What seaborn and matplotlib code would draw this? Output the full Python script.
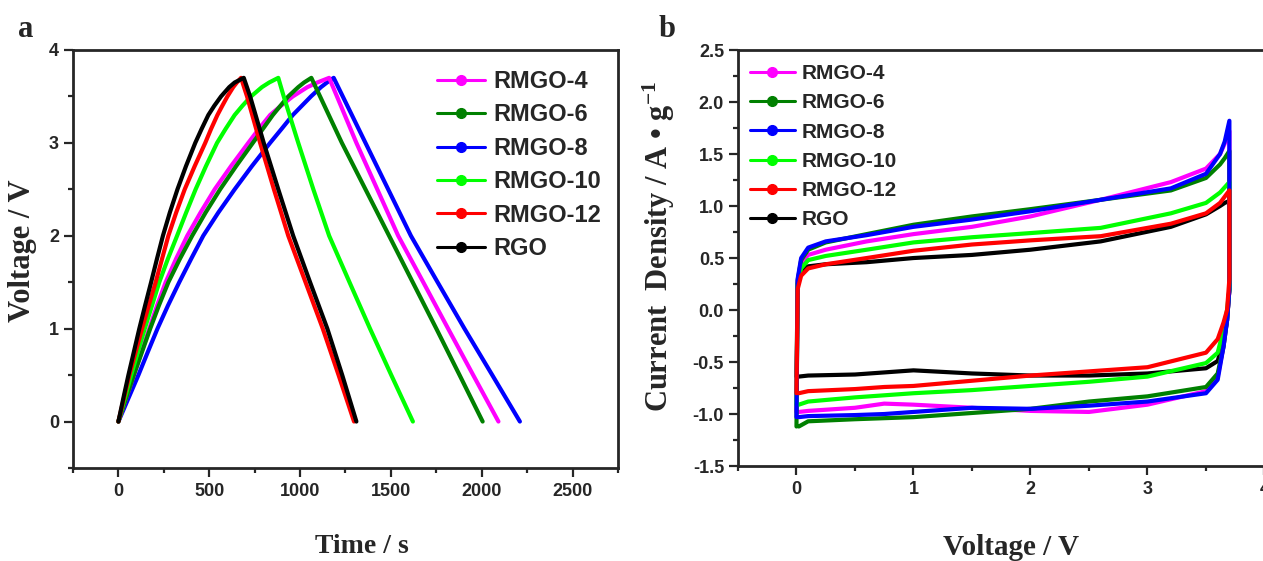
import pandas as pd
import seaborn as sns
import matplotlib.pyplot as plt
from matplotlib.lines import Line2D
from matplotlib.ticker import MultipleLocator

sns.set_style("ticks")
plt.rcParams["font.family"] = ["Liberation Sans", "DejaVu Sans"]
plt.rcParams["font.weight"] = "bold"
plt.rcParams["axes.unicode_minus"] = False
plt.rcParams["mathtext.fontset"] = "custom"
plt.rcParams["mathtext.rm"] = "Liberation Serif:bold"
plt.rcParams["mathtext.default"] = "rm"

samples = ["RMGO-4", "RMGO-6", "RMGO-8", "RMGO-10", "RMGO-12", "RGO"]
colors = ["#ff00ff", "#008000", "#0000ff", "#00ff00", "#ff0000", "#000000"]

# (a) galvanostatic charge / discharge: time (s) read at fixed voltages
chg_v = [0, 0.25, 0.5, 0.75, 1.0, 1.25, 1.5, 1.75, 2.0, 2.25, 2.5, 2.75,
         3.0, 3.15, 3.3, 3.4, 3.5, 3.6, 3.65, 3.7]
dis_v = [3.7, 3.5, 3.0, 2.5, 2.0, 1.5, 1.0, 0.5, 0]

chg_rmgo4 = [0, 42, 85, 127, 170, 213, 260, 317, 379, 452, 530, 620,
             715, 773, 835, 895, 960, 1040, 1095, 1160]
chg_rmgo6 = [0, 42, 85, 130, 175, 223, 275, 338, 406, 480, 560, 648,
             740, 795, 850, 892, 935, 990, 1022, 1062]
chg_rmgo8 = [0, 55, 110, 162, 215, 273, 335, 400, 467, 550, 640, 735,
             835, 898, 960, 1010, 1060, 1115, 1148, 1185]
chg_rmgo10 = [0, 35, 70, 107, 145, 185, 225, 272, 323, 373, 425, 482,
              543, 590, 640, 683, 730, 790, 830, 880]
chg_rmgo12 = [0, 30, 60, 95, 130, 167, 205, 240, 275, 318, 365, 420,
              478, 510, 545, 572, 600, 632, 652, 675]
chg_rgo = [0, 27, 55, 85, 115, 147, 180, 212, 245, 283, 325, 372,
           423, 458, 495, 528, 565, 610, 640, 690]

dis_rmgo4 = [1160, 1203, 1310, 1425, 1540, 1678, 1815, 1953, 2092]
dis_rmgo6 = [1062, 1110, 1230, 1360, 1490, 1620, 1750, 1878, 2005]
dis_rmgo8 = [1185, 1235, 1360, 1485, 1610, 1757, 1905, 2058, 2210]
dis_rmgo10 = [880, 910, 990, 1073, 1160, 1272, 1385, 1502, 1621]
dis_rmgo12 = [675, 708, 780, 856, 935, 1030, 1125, 1212, 1297]
dis_rgo = [690, 725, 800, 880, 962, 1055, 1150, 1232, 1310]

# (b) cyclic voltammetry: current density read at fixed voltages
up_v = [0.0, 0.01, 0.04, 0.1, 0.25, 0.6, 1.0, 1.5, 2.0, 2.6, 3.2, 3.5, 3.62, 3.66, 3.7]
low_v = [3.7, 3.68, 3.65, 3.6, 3.5, 3.0, 2.5, 2.0, 1.5, 1.0, 0.75, 0.5, 0.1, 0.02]

up_rmgo4 = [-0.98, 0.28, 0.45, 0.53, 0.58, 0.66, 0.73, 0.80, 0.90, 1.06, 1.23, 1.36, 1.50, 1.60, 1.72]
up_rmgo6 = [-1.12, 0.28, 0.48, 0.58, 0.65, 0.73, 0.82, 0.90, 0.97, 1.06, 1.15, 1.27, 1.40, 1.46, 1.53]
up_rmgo8 = [-1.03, 0.30, 0.50, 0.60, 0.66, 0.72, 0.80, 0.87, 0.95, 1.06, 1.17, 1.31, 1.50, 1.62, 1.82]
up_rmgo10 = [-0.91, 0.25, 0.40, 0.48, 0.52, 0.58, 0.65, 0.70, 0.74, 0.79, 0.93, 1.03, 1.13, 1.18, 1.23]
up_rmgo12 = [-0.80, 0.20, 0.33, 0.40, 0.44, 0.50, 0.57, 0.63, 0.67, 0.71, 0.83, 0.93, 1.03, 1.09, 1.15]
up_rgo = [-0.64, 0.25, 0.38, 0.42, 0.44, 0.46, 0.50, 0.53, 0.58, 0.66, 0.80, 0.92, 1.00, 1.03, 1.05]

low_rmgo4 = [0.2, -0.1, -0.35, -0.64, -0.78, -0.91, -0.98, -0.97, -0.94, -0.91, -0.90, -0.94, -0.97, -0.98]
low_rmgo6 = [0.2, -0.1, -0.35, -0.61, -0.74, -0.83, -0.88, -0.95, -0.99, -1.03, -1.04, -1.05, -1.07, -1.12]
low_rmgo8 = [0.2, -0.1, -0.35, -0.67, -0.80, -0.88, -0.92, -0.95, -0.94, -0.98, -1.00, -1.01, -1.02, -1.03]
low_rmgo10 = [0.2, 0.0, -0.19, -0.41, -0.51, -0.64, -0.69, -0.73, -0.77, -0.80, -0.82, -0.84, -0.88, -0.91]
low_rmgo12 = [0.3, 0.0, -0.12, -0.28, -0.41, -0.55, -0.59, -0.63, -0.68, -0.73, -0.74, -0.76, -0.78, -0.80]
low_rgo = [0.2, -0.1, -0.30, -0.49, -0.56, -0.61, -0.63, -0.63, -0.61, -0.58, -0.60, -0.62, -0.63, -0.64]

chg = [chg_rmgo4, chg_rmgo6, chg_rmgo8, chg_rmgo10, chg_rmgo12, chg_rgo]
dis = [dis_rmgo4, dis_rmgo6, dis_rmgo8, dis_rmgo10, dis_rmgo12, dis_rgo]
up = [up_rmgo4, up_rmgo6, up_rmgo8, up_rmgo10, up_rmgo12, up_rgo]
low = [low_rmgo4, low_rmgo6, low_rmgo8, low_rmgo10, low_rmgo12, low_rgo]

rows_a = []
rows_b = []
for i, s in enumerate(samples):
    for t, v in zip(chg[i] + dis[i], chg_v + dis_v):
        rows_a.append({"sample": s, "t": t, "v": v})
    for v, c in zip(up_v + low_v, up[i] + low[i]):
        rows_b.append({"sample": s, "v": v, "i": c})
df_a = pd.DataFrame(rows_a)
df_b = pd.DataFrame(rows_b)
pal = dict(zip(samples, colors))

fig = plt.figure(figsize=(12.63, 5.61), dpi=100)
ax1 = fig.add_axes([0.0578, 0.1658, 0.4315, 0.7451])
ax2 = fig.add_axes([0.5843, 0.1693, 0.4632, 0.7415])

sns.lineplot(data=df_a, x="t", y="v", hue="sample", palette=pal,
             hue_order=["RMGO-8", "RMGO-4", "RMGO-6", "RMGO-10", "RMGO-12", "RGO"],
             sort=False, estimator=None, lw=3, legend=False, ax=ax1)
sns.lineplot(data=df_b, x="v", y="i", hue="sample", palette=pal,
             hue_order=["RGO", "RMGO-4", "RMGO-6", "RMGO-10", "RMGO-8", "RMGO-12"],
             sort=False, estimator=None, lw=3, legend=False, ax=ax2)

ax1.set_xlim(-250, 2750)
ax1.set_ylim(-0.5, 4)
ax1.xaxis.set_major_locator(MultipleLocator(500))
ax1.xaxis.set_minor_locator(MultipleLocator(250))
ax1.yaxis.set_major_locator(MultipleLocator(1))
ax1.yaxis.set_minor_locator(MultipleLocator(0.5))

ax2.set_xlim(-0.5, 4.5)
ax2.set_ylim(-1.5, 2.5)
ax2.xaxis.set_major_locator(MultipleLocator(1))
ax2.xaxis.set_minor_locator(MultipleLocator(0.5))
ax2.yaxis.set_major_locator(MultipleLocator(0.5))
ax2.yaxis.set_minor_locator(MultipleLocator(0.25))

for ax in (ax1, ax2):
    for sp in ax.spines.values():
        sp.set_linewidth(2)
        sp.set_visible(True)
    ax.tick_params(which="both", direction="out", width=1.6, top=False, right=False)
    ax.tick_params(which="major", length=6.5, labelsize=13)
    ax.tick_params(axis="x", which="major", pad=4.5)
    ax.tick_params(axis="y", which="major", pad=3.5)
    ax.tick_params(which="minor", length=3.5)
    ax.grid(False)

lab = {"family": "Liberation Serif", "weight": "bold"}
ax1.set_xlabel("Time / s", size=20, **lab)
ax1.set_ylabel("Voltage / V", size=22, **lab)
ax1.xaxis.set_label_coords(0.530, -0.158)
ax1.yaxis.set_label_coords(-0.066, 0.519)

ax2.set_xlabel("Voltage / V", size=21, **lab)
ax2.set_ylabel("Current  Density / A • g$^{-1}$", size=22, **lab)
ax2.xaxis.set_label_coords(0.467, -0.163)
ax2.yaxis.set_label_coords(-0.104, 0.529)

handles = [Line2D([], [], color=c, lw=2.2, marker="o", ms=7) for c in colors]
ax1.legend(handles, samples, loc="upper left", bbox_to_anchor=(0.668, 0.952),
           frameon=False, borderpad=0, borderaxespad=0, handlelength=2.05,
           handletextpad=0.33, labelspacing=0.44,
           prop={"family": "Liberation Sans", "weight": "bold", "size": 17})
ax2.legend(handles, samples, loc="upper left", bbox_to_anchor=(0.0205, 0.966),
           frameon=False, borderpad=0, borderaxespad=0, handlelength=2.15,
           handletextpad=0.33, labelspacing=0.49,
           prop={"family": "Liberation Sans", "weight": "bold", "size": 15})

fig.text(0.0143, 0.934, "a", size=22, va="baseline", **lab)
fig.text(0.5218, 0.934, "b", size=22, va="baseline", **lab)

fig.savefig("out.png", dpi=100)
